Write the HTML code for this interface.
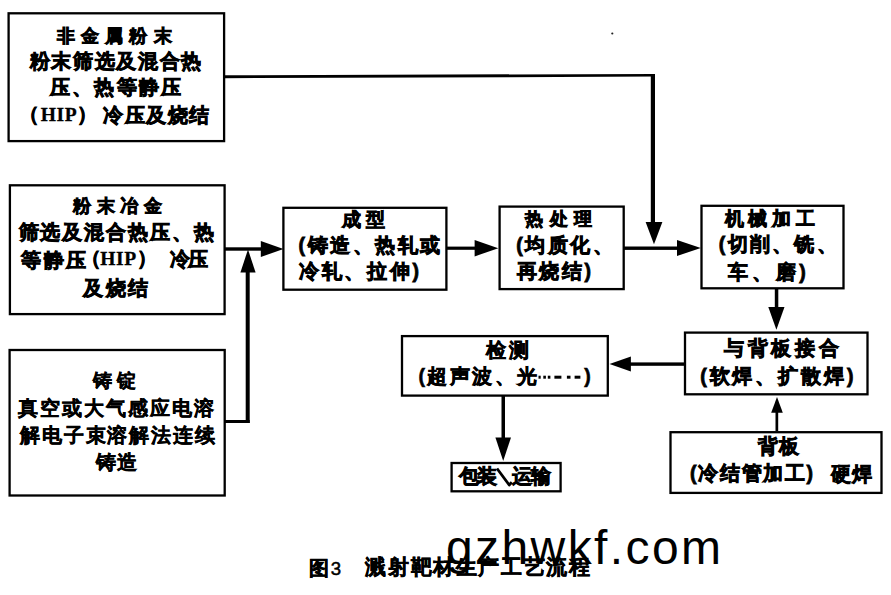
<!DOCTYPE html>
<html><head><meta charset="utf-8"><title>溅射靶材生产工艺流程</title>
<style>
html,body{margin:0;padding:0;background:#fff;}
body{width:891px;height:595px;position:relative;overflow:hidden;font-family:"Liberation Sans",sans-serif;color:#000;}
.t{position:absolute;white-space:nowrap;font-weight:bold;line-height:1;-webkit-text-stroke:0.8px #000;}
.s{font-family:"Liberation Serif",serif;font-weight:bold;letter-spacing:0.6px;-webkit-text-stroke:0.3px #000;}
.n{font-weight:normal;font-size:0.93em;margin-left:1px;}
svg{position:absolute;left:0;top:0;}
#t25,#t26,#t27,#t28{-webkit-text-stroke-width:0.4px;}
#t22,#t23,#t23b{-webkit-text-stroke-width:0.6px;}
#t29,#t30{-webkit-text-stroke-width:0.5px;}
#wm{position:absolute;white-space:nowrap;font-family:"Liberation Sans",sans-serif;font-weight:normal;line-height:1;left:446.00px;top:523.90px;font-size:48.00px;letter-spacing:2.40px;}
</style></head><body>
<svg width="891" height="595" viewBox="0 0 891 595">
<rect x="8.6" y="13.3" width="215.50" height="127.80" fill="none" stroke="#000" stroke-width="2.3"/>
<rect x="9.9" y="185.3" width="214.70" height="128.80" fill="none" stroke="#000" stroke-width="2.3"/>
<rect x="283.4" y="207.8" width="163.00" height="81.90" fill="none" stroke="#000" stroke-width="2.3"/>
<rect x="499.6" y="206.6" width="124.10" height="82.50" fill="none" stroke="#000" stroke-width="2.3"/>
<rect x="701.5" y="205.8" width="142.00" height="82.50" fill="none" stroke="#000" stroke-width="2.3"/>
<rect x="685" y="332.6" width="182.50" height="61.70" fill="none" stroke="#000" stroke-width="2.3"/>
<rect x="670.5" y="432.2" width="211.00" height="60.70" fill="none" stroke="#000" stroke-width="2.3"/>
<rect x="402" y="336.1" width="205.80" height="59.50" fill="none" stroke="#000" stroke-width="2.3"/>
<rect x="451.6" y="463" width="109.00" height="28.30" fill="none" stroke="#000" stroke-width="2.3"/>
<rect x="9.6" y="350" width="215.10" height="145.50" fill="none" stroke="#000" stroke-width="2.3"/>
<rect x="650.8" y="74" width="4.20" height="149.00" fill="#000"/>
<rect x="225" y="247.3" width="37.00" height="3.40" fill="#000"/>
<rect x="224" y="420" width="25.70" height="3.00" fill="#000"/>
<rect x="245.7" y="268" width="4.00" height="155.00" fill="#000"/>
<rect x="447" y="246.6" width="29.00" height="3.20" fill="#000"/>
<rect x="623.8" y="246.5" width="54.20" height="3.40" fill="#000"/>
<rect x="774.8" y="288" width="3.50" height="20.00" fill="#000"/>
<rect x="630" y="362.4" width="54.70" height="3.40" fill="#000"/>
<rect x="775.5" y="410" width="2.70" height="21.00" fill="#000"/>
<rect x="501.5" y="395" width="3.50" height="44.00" fill="#000"/>
<polygon points="283.5,249.0 260.8,241.0 260.8,257.0" fill="#000"/>
<polygon points="248.0,249.5 240.4,272.4 255.6,272.4" fill="#000"/>
<polygon points="498.3,248.2 474.6,240.0 474.6,256.4" fill="#000"/>
<polygon points="654.0,244.3 645.6,222.1 662.4,222.1" fill="#000"/>
<polygon points="700.8,248.0 677.0,240.1 677.0,255.9" fill="#000"/>
<polygon points="776.4,329.7 768.3,306.9 784.5,306.9" fill="#000"/>
<polygon points="609.5,364.0 630.9,356.4 630.9,371.6" fill="#000"/>
<polygon points="777.0,397.0 771.2,412.7 782.8,412.7" fill="#000"/>
<polygon points="503.2,461.0 495.4,437.5 511.0,437.5" fill="#000"/>
<circle cx="612.3" cy="33.5" r="1.1" fill="#222"/>
<polygon points="224.5,75.3 654.6,73.9 654.6,76.6 224.5,78.2" fill="#000"/>
<polyline points="497,468.5 509.2,485 511.8,482.3" fill="none" stroke="#000" stroke-width="2.8" stroke-linejoin="round"/>
<rect x="538.5" y="375.7" width="2.2" height="3" fill="#000"/>
<rect x="543.3" y="375.7" width="2.6" height="3" fill="#000"/>
<rect x="547.8" y="375.7" width="2.6" height="3" fill="#000"/>
<rect x="554.4" y="375.7" width="7" height="3" fill="#000"/>
<rect x="566.9" y="375.7" width="3.6" height="3" fill="#000"/>
<rect x="574.6" y="375.7" width="5.8" height="3" fill="#000"/>
</svg>
<div class="t" style="left:57.20px;top:26.84px;font-size:18.00px;letter-spacing:6.10px" id="t1">非金属粉末</div>
<div class="t" style="left:29.80px;top:52.26px;font-size:19.50px;letter-spacing:1.66px" id="t2">粉末筛选及混合热</div>
<div class="t" style="left:49.80px;top:77.56px;font-size:19.50px;letter-spacing:2.32px" id="t3">压、热等静压</div>
<div class="t" style="left:19.20px;top:105.43px;font-size:19.50px;letter-spacing:1.50px" id="t4">（<span class=s>HIP</span>）</div>
<div class="t" style="left:103.00px;top:106.43px;font-size:19.50px;letter-spacing:1.50px" id="t4b">冷压及烧结</div>
<div class="t" style="left:73.20px;top:198.10px;font-size:17.53px;letter-spacing:5.47px" id="t5">粉末冶金</div>
<div class="t" style="left:18.60px;top:223.01px;font-size:19.50px;letter-spacing:1.90px" id="t6">筛选及混合热压、热</div>
<div class="t" style="left:21.00px;top:250.72px;font-size:19.50px;letter-spacing:2.50px" id="t7">等静压</div>
<div class="t" style="left:81.10px;top:248.72px;font-size:19.50px;letter-spacing:-0.75px" id="t7b">（<span class=s>HIP</span>）</div>
<div class="t" style="left:169.90px;top:249.72px;font-size:19.50px;letter-spacing:-2.00px" id="t7c">冷压</div>
<div class="t" style="left:83.25px;top:278.66px;font-size:19.50px;letter-spacing:2.25px" id="t8">及烧结</div>
<div class="t" style="left:341.50px;top:211.39px;font-size:18.65px;letter-spacing:5.00px" id="t9">成型</div>
<div class="t" style="left:298.60px;top:236.26px;font-size:19.50px;letter-spacing:2.53px" id="t10">(铸造、热轧或</div>
<div class="t" style="left:298.80px;top:262.36px;font-size:19.50px;letter-spacing:2.72px" id="t11">冷轧、拉伸)</div>
<div class="t" style="left:525.45px;top:211.39px;font-size:17.51px;letter-spacing:6.45px" id="t12">热处理</div>
<div class="t" style="left:516.20px;top:236.16px;font-size:19.50px;letter-spacing:2.60px" id="t13">(均质化、</div>
<div class="t" style="left:516.85px;top:261.66px;font-size:19.50px;letter-spacing:2.57px" id="t14">再烧结)</div>
<div class="t" style="left:724.85px;top:209.33px;font-size:19.02px;letter-spacing:4.57px" id="t15">机械加工</div>
<div class="t" style="left:718.75px;top:235.46px;font-size:19.50px;letter-spacing:2.30px" id="t16">(切削、铣、</div>
<div class="t" style="left:728.40px;top:263.31px;font-size:19.50px;letter-spacing:3.60px" id="t17">车、磨)</div>
<div class="t" style="left:724.25px;top:338.66px;font-size:19.50px;letter-spacing:3.62px" id="t18">与背板接合</div>
<div class="t" style="left:700.15px;top:367.16px;font-size:19.50px;letter-spacing:2.90px" id="t19">(软焊、扩散焊)</div>
<div class="t" style="left:757.70px;top:436.42px;font-size:20.03px;letter-spacing:1.40px" id="t20">背板</div>
<div class="t" style="left:690.10px;top:464.22px;font-size:19.50px;letter-spacing:1.67px" id="t21">(冷结管加工)</div>
<div class="t" style="left:830.90px;top:465.22px;font-size:19.50px;letter-spacing:1.00px" id="t21b">硬焊</div>
<div class="t" style="left:485.70px;top:341.17px;font-size:19.51px;letter-spacing:3.40px" id="t22">检测</div>
<div class="t" style="left:418.50px;top:367.42px;font-size:19.50px;letter-spacing:2.40px" id="t23">(超声波、光</div>
<div class="t" style="left:584.20px;top:367.03px;font-size:19.50px;letter-spacing:2.00px" id="t23b">)</div>
<div class="t" style="left:458.95px;top:466.66px;font-size:19.50px;letter-spacing:-2.10px" id="t24a">包装</div>
<div class="t" style="left:511.50px;top:466.66px;font-size:19.50px;letter-spacing:-1.00px" id="t24b">运输</div>
<div class="t" style="left:93.20px;top:371.77px;font-size:18.51px;letter-spacing:4.40px" id="t25">铸锭</div>
<div class="t" style="left:18.10px;top:398.66px;font-size:19.50px;letter-spacing:2.02px" id="t26">真空或大气感应电溶</div>
<div class="t" style="left:20.20px;top:425.61px;font-size:19.50px;letter-spacing:1.80px" id="t27">解电子束溶解法连续</div>
<div class="t" style="left:96.40px;top:452.61px;font-size:19.50px;letter-spacing:0.80px" id="t28">铸造</div>
<div class="t" style="left:308.70px;top:557.76px;font-size:20.00px;letter-spacing:1.00px" id="t29">图<span class=n>3</span></div>
<div class="t" style="left:365.35px;top:557.24px;font-size:20.53px;letter-spacing:1.63px" id="t30">溅射靶材生产工艺流程</div>
<div id="wm">gzhwkf.com</div>
</body></html>
